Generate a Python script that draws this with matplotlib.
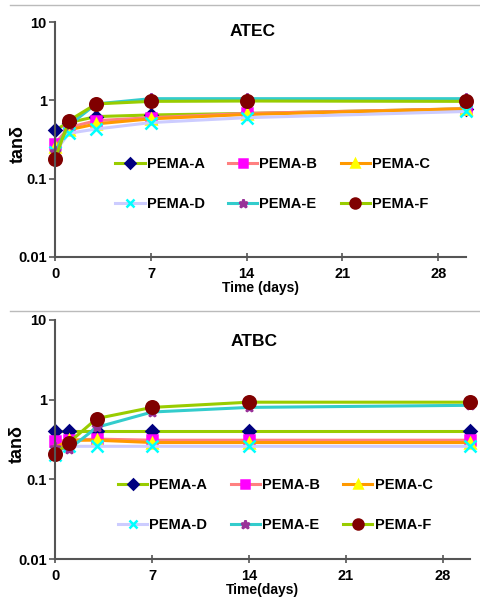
import numpy as np
import matplotlib
matplotlib.use("Agg")
import matplotlib.pyplot as plt
from matplotlib.lines import Line2D

plt.rcParams['font.family'] = ['Liberation Sans', 'DejaVu Sans']

days = [0, 1, 3, 7, 14, 30]
labels = ["PEMA-A", "PEMA-B", "PEMA-C", "PEMA-D", "PEMA-E", "PEMA-F"]

# ATEC
atec_a = [0.42, 0.52, 0.62, 0.65, 0.68, 0.78]
atec_b = [0.28, 0.45, 0.55, 0.60, 0.68, 0.78]
atec_c = [0.25, 0.42, 0.50, 0.58, 0.66, 0.78]
atec_d = [0.22, 0.38, 0.43, 0.52, 0.60, 0.72]
atec_e = [0.22, 0.48, 0.90, 1.05, 1.05, 1.05]
atec_f = [0.18, 0.55, 0.90, 0.97, 0.98, 0.97]

# ATBC
atbc_a = [0.41, 0.41, 0.41, 0.41, 0.41, 0.41]
atbc_b = [0.30, 0.31, 0.32, 0.31, 0.31, 0.31]
atbc_c = [0.25, 0.31, 0.31, 0.29, 0.29, 0.29]
atbc_d = [0.20, 0.26, 0.26, 0.26, 0.26, 0.26]
atbc_e = [0.25, 0.24, 0.45, 0.70, 0.80, 0.85]
atbc_f = [0.21, 0.29, 0.58, 0.80, 0.93, 0.93]

line_cols = ["#99CC00", "#FF8080", "#FF9900", "#CCCCFF", "#33CCCC", "#99CC00"]
mark_cols = ["#000080", "#FF00FF", "#FFFF00", "#00FFFF", "#993399", "#800000"]
markers = ["D", "s", "^", "x", "*", "o"]
msizes = [6, 7, 7, 8, 8, 9]

fig = plt.figure(figsize=(4.8, 6.13), dpi=100)

def panel(rect, series, title, title_y, xlab, leg_y, lab_y):
    ax = fig.add_axes(rect)
    hs = []
    for i, s in enumerate(series):
        h, = ax.plot(days, s, color=line_cols[i], lw=2.2, marker=markers[i],
                     ms=msizes[i], mfc=mark_cols[i], mec=mark_cols[i], mew=1.8,
                     label=labels[i], clip_on=False)
        hs.append(h)
    ax.set_yscale("log")
    ax.set_ylim(0.01, 10)
    ax.set_xlim(0, 30)
    ax.set_xticks([0, 7, 14, 21, 28])
    ax.set_yticks([0.01, 0.1, 1, 10])
    ax.set_yticklabels(["0.01", "0.1", "1", "10"])
    ax.minorticks_off()
    for sp in ["top", "right"]:
        ax.spines[sp].set_visible(False)
    for sp in ["left", "bottom"]:
        ax.spines[sp].set_color("#555555")
        ax.spines[sp].set_linewidth(1.5)
    ax.tick_params(axis="x", direction="inout", length=6, width=1.2, color="#555555",
                   labelsize=10.5, pad=4)
    ax.tick_params(axis="y", direction="out", length=4, width=1.2, color="#555555",
                   labelsize=10.5, pad=2)
    for t in ax.get_xticklabels() + ax.get_yticklabels():
        t.set_fontweight("bold")
    ax.text(0.48, title_y, title, transform=ax.transAxes, ha="center", va="center",
            fontsize=12.5, fontweight="bold")
    ax.set_xlabel(xlab, fontsize=10, fontweight="bold", labelpad=0)
    ax.set_ylabel("tanδ", fontsize=13, fontweight="bold")
    ax.yaxis.set_label_coords(-0.07, lab_y)
    order = [0, 3, 1, 4, 2, 5]
    ax.legend([hs[k] for k in order], [labels[k] for k in order],
              ncol=3, loc="center", bbox_to_anchor=(0.53, leg_y), frameon=False,
              prop={"weight": "bold", "size": 10.5}, handlelength=2.0,
              handletextpad=0.15, columnspacing=1.6, labelspacing=1.8,
              markerscale=0.8)
    return ax

panel([0.115, 0.581, 0.855, 0.383],
      [atec_a, atec_b, atec_c, atec_d, atec_e, atec_f], "ATEC", 0.96,
      "Time (days)", 0.31, 0.48)
panel([0.115, 0.088, 0.865, 0.39],
      [atbc_a, atbc_b, atbc_c, atbc_d, atbc_e, atbc_f], "ATBC", 0.91,
      "Time(days)", 0.225, 0.48)

fig.add_artist(Line2D([0.02, 1.0], [1 - 5 / 613, 1 - 5 / 613], color="#BBBBBB", lw=1))
fig.add_artist(Line2D([0.02, 1.0], [1 - 311 / 613, 1 - 311 / 613], color="#BBBBBB", lw=1))

fig.savefig("out.png", dpi=100)
